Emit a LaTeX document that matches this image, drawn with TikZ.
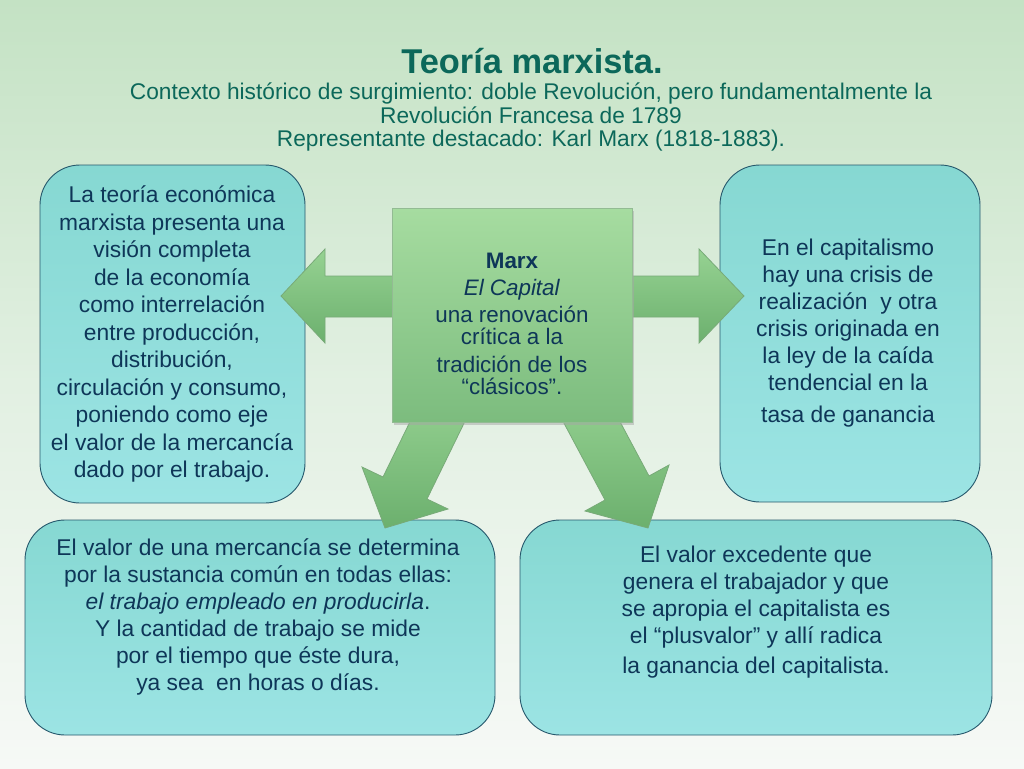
\documentclass[tikz,border=0pt]{standalone}
\usepackage{fontspec}
\setmainfont{Liberation Sans}
\usetikzlibrary{shadows}
\definecolor{bgtop}{RGB}{196,226,196}
\definecolor{bgmid}{RGB}{226,240,226}
\definecolor{bgbot}{RGB}{246,249,246}
\definecolor{boxtop}{RGB}{134,216,210}
\definecolor{boxbot}{RGB}{156,228,228}
\definecolor{boxline}{RGB}{38,88,108}
\definecolor{txt}{RGB}{14,54,88}
\definecolor{ttl}{RGB}{12,104,90}
\definecolor{grtop}{RGB}{166,220,160}
\definecolor{grbot}{RGB}{124,188,126}
\definecolor{grline}{RGB}{120,170,120}
\definecolor{artop}{RGB}{150,210,146}
\definecolor{arbot}{RGB}{108,176,110}
\tikzset{
  infobox/.style={draw=boxline, line width=0.9pt, rounded corners=40pt,
    top color=boxtop, bottom color=boxbot, inner sep=0pt},
  boxtext/.style={text=txt, align=center, inner sep=0pt, font=\fontsize{22.8}{27}\selectfont},
  blockarrow/.style={draw=grline, line width=0.8pt, top color=artop, bottom color=arbot},
  centerbox/.style={draw=grline!80!white, line width=0.8pt, top color=grtop, bottom color=grbot,
    drop shadow={shadow xshift=2pt, shadow yshift=-3pt, fill=black!35, opacity=0.5},
    inner sep=0pt}
}
\begin{document}
\begin{tikzpicture}[x=1pt,y=-1pt]
\useasboundingbox (0,0) rectangle (1024,768);
\shade[top color=bgtop, bottom color=bgbot, middle color=bgmid] (0,0) rectangle (1024,768);

% title
\node[text=ttl, font=\bfseries\fontsize{34.4}{38}\selectfont, inner sep=0pt] (title) at (532,61) {Teoría marxista.};
\node[text=ttl, font=\fontsize{22.7}{23.5}\selectfont, align=center, inner sep=0pt] (sub) at (531,117)
  {Contexto histórico de surgimiento: doble Revolución, pero fundamentalmente la\\
   Revolución Francesa de 1789\\
   Representante destacado: Karl Marx (1818-1883).};

% boxes
\node[infobox, minimum width=265pt, minimum height=338pt] (lbox) at (172.5,334) {};
\node[infobox, minimum width=260pt, minimum height=337pt] (rbox) at (850,333.5) {};
\node[infobox, minimum width=470pt, minimum height=215pt] (blbox) at (260,627.5) {};
\node[infobox, minimum width=472pt, minimum height=215pt] (brbox) at (756,627.5) {};

% block arrows (drawn before the centre box)
\path[blockarrow] (395,276) -- (325,276) -- (325,249) -- (281,296) -- (325,343) -- (325,317) -- (395,317) -- cycle;
\path[blockarrow] (629,276) -- (699,276) -- (699,249) -- (744,296) -- (699,343) -- (699,317) -- (629,317) -- cycle;
\path[blockarrow] (470,411) -- (427,499) -- (448,509) -- (385,528) -- (362,467) -- (383,477) -- (426,389) -- cycle;
\path[blockarrow] (558,412) -- (605,500) -- (585,511) -- (648,528) -- (669,465) -- (649,476) -- (602,388) -- cycle;

% centre box
\node[centerbox, minimum width=240pt, minimum height=214pt] (cbox) at (512,315) {};

% texts
\node[boxtext, font=\fontsize{22.8}{27.5}\selectfont] (ltext) at (172,334)
  {La teoría económica\\ marxista presenta una\\ visión completa\\ de la economía\\
   como interrelación\\ entre producción,\\ distribución,\\ circulación y consumo,\\
   poniendo como eje\\ el valor de la mercancía\\ dado por el trabajo.};
\node[boxtext] (rtext) at (848,333)
  {En el capitalismo\\ hay una crisis de\\ realización\ \ y otra\\ crisis originada en\\
   la ley de la caída\\ tendencial en la\\[5pt] tasa de ganancia};
\node[boxtext] (bltext) at (258,617)
  {El valor de una mercancía se determina\\ por la sustancia común en todas ellas:\\
   \textit{el trabajo empleado en producirla}.\\ Y la cantidad de trabajo se mide\\
   por el tiempo que éste dura,\\ ya sea\ \ en horas o días.};
\node[boxtext] (brtext) at (756,612)
  {El valor excedente que\\ genera el trabajador y que\\ se apropia el capitalista es\\
   el “plusvalor” y allí radica\\[3pt] la ganancia del capitalista.};
\node[boxtext, font=\fontsize{22.4}{25}\selectfont] (ctext) at (512,324)
  {\textbf{Marx}\\[2pt] \textit{El Capital}\\[2pt] una renovación\\[-3pt] crítica a la\\[3pt]
   tradición de los\\[-3pt] “clásicos”.};
\end{tikzpicture}
\end{document}
